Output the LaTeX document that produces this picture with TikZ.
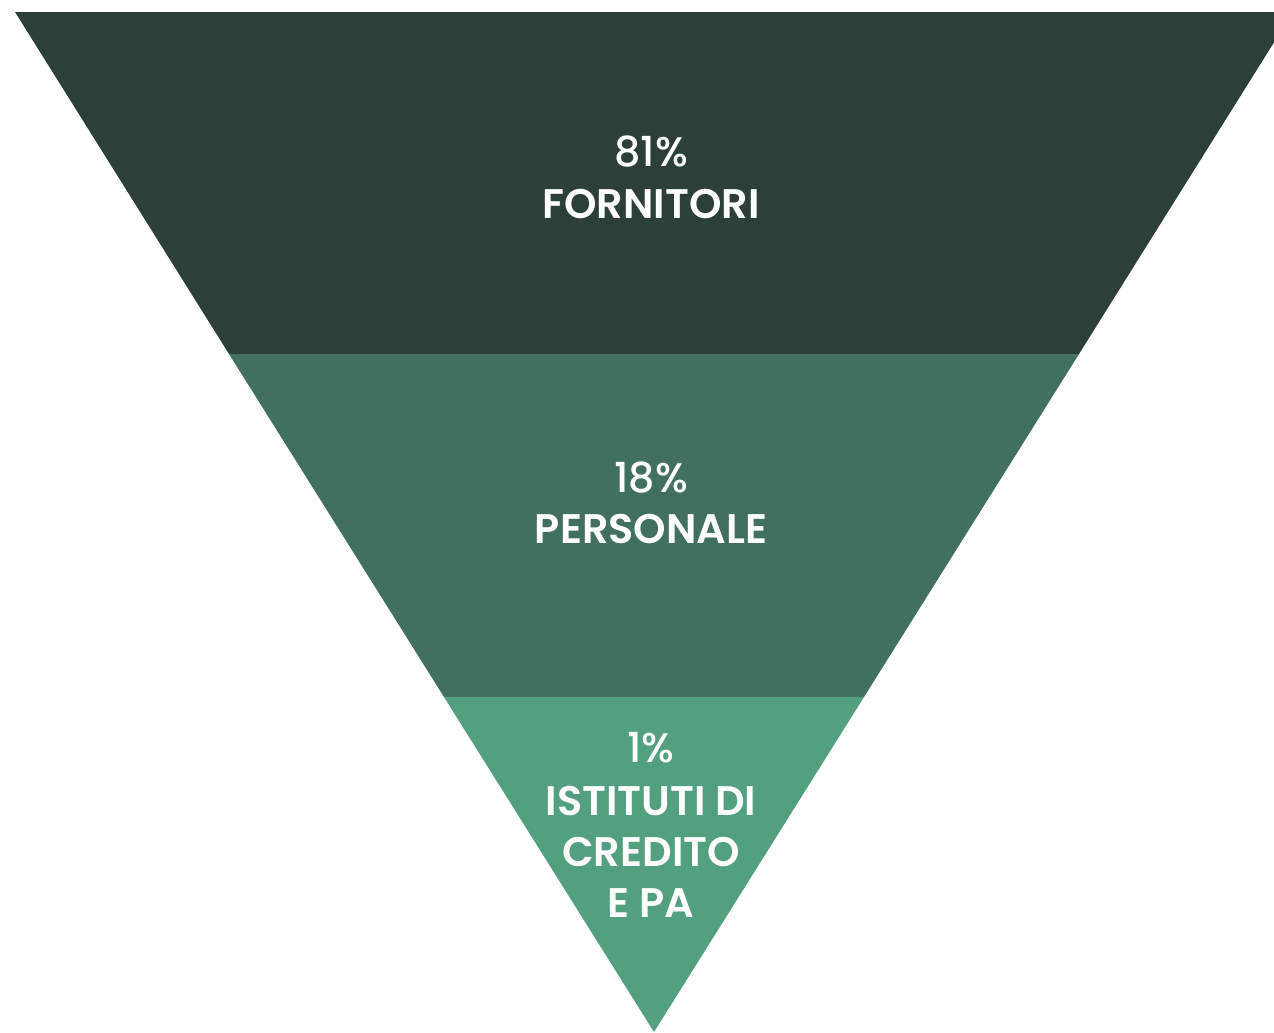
\documentclass[tikz,border=0pt]{standalone}
\usepackage{fontspec}
\setmainfont{Poppins}
\newfontfamily\pctfont{Poppins Medium}
\newfontfamily\lblfont{Poppins SemiBold}
\definecolor{bandtop}{HTML}{2C4039}
\definecolor{bandmid}{HTML}{41705E}
\definecolor{bandlow}{HTML}{52A07F}
\tikzset{
  pct/.style={text=white, font=\pctfont\fontsize{31}{40}\selectfont},
  lbl/.style={text=white, font=\lblfont\fontsize{31}{38}\selectfont, align=center}
}
\begin{document}
\begin{tikzpicture}[x=0.75pt,y=0.75pt,yscale=-1,xscale=1]
\useasboundingbox (0,0) rectangle (1274,1032);
\clip (0,0) rectangle (1274,1032);

% bands of the funnel
\fill [bandtop] (15,12) -- (1293,12) -- (1079,354) -- (229,354) -- cycle;
\fill [bandmid] (229,354) -- (1079,354) -- (864,697) -- (444,697) -- cycle;
\fill [bandlow] (444,697) -- (864,697) -- (654,1032) -- cycle;

\draw (651,152) node[pct] (p81) {81\%};
\draw (651,204) node[lbl] (forn) {FORNITORI};

\draw (651,478) node[pct] (p18) {18\%};
\draw (651,529) node[lbl] (pers) {PERSONALE};

\draw (651,748) node[pct] (p1) {1\%};
\draw (651,852) node[lbl] (ist) {ISTITUTI DI\\CREDITO\\E PA};

\end{tikzpicture}
\end{document}
